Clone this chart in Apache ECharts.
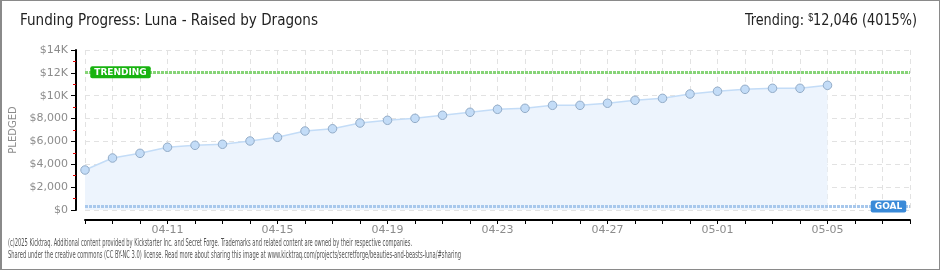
<!DOCTYPE html>
<html><head><meta charset="utf-8">
<script src="https://cdn.jsdelivr.net/npm/echarts@6/dist/echarts.min.js"></script>
<style>
html,body{margin:0;padding:0;background:#fff;}
#wrap{position:absolute;left:0;top:0;width:940px;height:270px;box-sizing:border-box;border:1px solid #8a8a8a;border-left-width:2px;}
#c{position:absolute;left:0;top:0;width:940px;height:270px;}
</style></head>
<body><div id="c"></div><div id="wrap"></div>
<script>
const dates = ['04-08','04-09','04-10','04-11','04-12','04-13','04-14','04-15','04-16','04-17','04-18','04-19','04-20','04-21','04-22','04-23','04-24','04-25','04-26','04-27','04-28','04-29','04-30','05-01','05-02','05-03','05-04','05-05','05-06','05-07','05-08'];
const pledged = [3500,4550,4960,5490,5660,5750,6040,6360,6910,7110,7610,7850,8020,8290,8550,8810,8900,9160,9160,9340,9600,9770,10150,10390,10560,10650,10650,10910];
const trending = 12046;
const goal = 300;
const yTicks = ['$0','$2,000','$4,000','$6,000','$8,000','$10K','$12K','$14K'];
const titleText = 'Funding Progress: Luna - Raised by Dragons';
const footer1 = '(c)2025 Kicktraq. Additional content provided by Kickstarter Inc. and Secret Forge. Trademarks and related content are owned by their respective companies.';
const footer2 = 'Shared under the creative commons (CC BY-NC 3.0) license. Read more about sharing this image at www.kicktraq.com/projects/secretforge/beauties-and-beasts-luna/#sharing';

const cv=document.createElement('canvas').getContext('2d');
function fitScale(text, font, target){
  cv.font=font; const w=cv.measureText(text).width; return w>0?target/w:1;
}
const headFont = '16px "Liberation Sans Narrow", "DejaVu Sans Condensed", sans-serif';
const footFont = '10px "Liberation Sans Narrow", "DejaVu Sans Condensed", sans-serif';
const sT = fitScale(titleText, headFont, 298);
const s1 = fitScale(footer1, footFont, 404);
const s2 = fitScale(footer2, footFont, 453);
cv.font=headFont;
const wTr = cv.measureText('Trending: 12,046 (4015%)').width;
cv.font='10px "Liberation Sans Narrow", sans-serif';
const wS = cv.measureText('$').width;
const sR = 172/(wTr+wS);

const chart = echarts.init(document.getElementById('c'), null, {renderer:'canvas'});
const grey='#8c8c8c';
chart.setOption({
  animation:false,
  backgroundColor:'#fff',
  grid:{left:85,right:30,top:50,bottom:60,containLabel:false},
  xAxis:{
    type:'category', data:dates, boundaryGap:false, offset:10,
    axisLine:{show:true,onZero:false,lineStyle:{color:'#000',width:2}},
    axisTick:{show:true,interval:0,length:4,inside:false,lineStyle:{color:'#000',width:1}},
    axisLabel:{interval:(i)=>((i-3)%4===0 && i>=3),color:grey,fontSize:11,margin:5,fontFamily:'DejaVu Sans'},
    splitLine:{show:true,interval:0,lineStyle:{color:'#e2e2e2',type:[5,4],width:1}}
  },
  yAxis:{
    type:'value',min:0,max:14000,interval:2000,offset:9,
    name:'PLEDGED',nameLocation:'middle',nameGap:51,nameRotate:90,
    nameTextStyle:{color:grey,fontSize:10,fontFamily:'DejaVu Sans'},
    axisLine:{show:true,onZero:false,lineStyle:{color:'#000',width:2}},
    axisTick:{show:true,length:5,lineStyle:{color:'#000',width:1}},
    minorTick:{show:true,splitNumber:2,length:3,lineStyle:{color:'#e00000',width:1}},
    axisLabel:{color:grey,fontSize:11,margin:8,fontFamily:'DejaVu Sans',formatter:(v)=>yTicks[Math.round(v/2000)]},
    splitLine:{show:true,lineStyle:{color:'#e2e2e2',type:[5,4],width:1}}
  },
  series:[{
    type:'line',data:pledged,symbol:'circle',symbolSize:8.5,
    itemStyle:{color:'#c3dcf7',borderColor:'#93acc8',borderWidth:1},
    lineStyle:{color:'#c3dcf7',width:1.5},
    areaStyle:{color:'#edf4fd',opacity:1},
    z:3,
    markLine:{
      silent:true,symbol:['none','none'],label:{show:false},
      data:[
        {yAxis:trending,lineStyle:{color:'#86d477',type:[3,1],width:3}},
        {yAxis:goal,lineStyle:{color:'#a8c8ec',type:[3,1],width:3}}
      ]
    },
    markPoint:{
      silent:true,symbol:'rect',symbolSize:0,
      data:[
        {coord:[1,trending],label:{show:true,formatter:'TRENDING',position:'inside',offset:[8,0],color:'#fff',fontSize:9,fontFamily:'DejaVu Sans',fontWeight:'bold',backgroundColor:'#18b310',padding:[2,4,1,4],borderRadius:2}},
        {coord:[29,goal],label:{show:true,formatter:'GOAL',position:'inside',offset:[6,0],color:'#fff',fontSize:9,fontFamily:'DejaVu Sans',fontWeight:'bold',backgroundColor:'#3a8ad8',padding:[2,4,1,4],borderRadius:2}}
      ]
    }
  }],
  graphic:[
    {type:'text',x:20,y:13,scaleX:sT,style:{text:titleText,font:headFont,fill:'#222'}},
    {type:'text',x:917,y:13,scaleX:sR,style:{
      text:'{a|Trending: }{s|$}{a|12,046 (4015%)}',align:'right',
      rich:{a:{font:headFont,fill:'#222'},
            s:{font:'10px "Liberation Sans Narrow", sans-serif',fill:'#222',verticalAlign:'top',padding:[0,0,6,0]}}
    }},
    {type:'text',x:8,y:238,scaleX:s1,style:{text:footer1,font:footFont,fill:'#555'}},
    {type:'text',x:8,y:250,scaleX:s2,style:{text:footer2,font:footFont,fill:'#555'}}
  ]
});
</script></body></html>
